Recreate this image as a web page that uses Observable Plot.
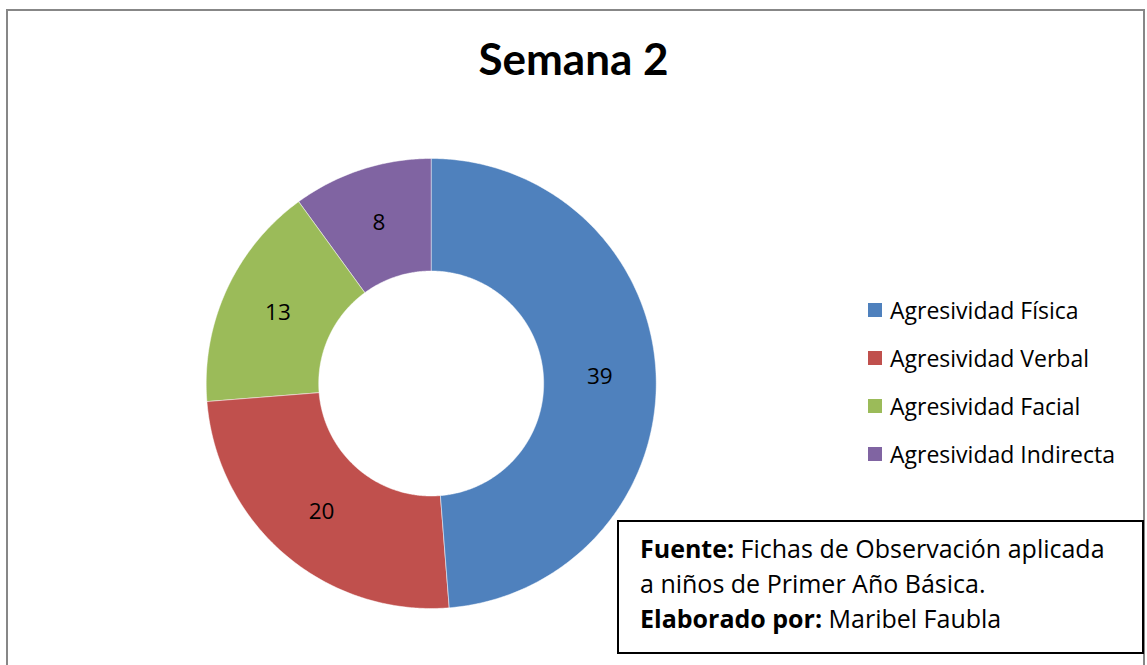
<!DOCTYPE html>
<html>
<head>
<meta charset="utf-8">
<script src="https://cdn.jsdelivr.net/npm/d3@7"></script>
<script src="https://cdn.jsdelivr.net/npm/@observablehq/plot@0.6"></script>
<style>
  html, body { margin: 0; padding: 0; background: #fff; }
  #wrap { position: relative; width: 1147px; height: 665px; overflow: hidden; font-family: "Open Sans", Lato, sans-serif; }
  #frame { position: absolute; left: 6px; top: 9px; width: 1139px; height: 700px; border: 2px solid #878787; box-sizing: border-box; }
  #title { position: absolute; left: 0; width: 1147px; top: 32px; text-align: center; font-family: Lato, sans-serif; font-weight: bold; font-size: 44px; color: #000; }
  #legend { position: absolute; left: 868px; top: 286px; }
  .item { display: flex; align-items: center; height: 48px; font-size: 23px; color: #000; white-space: nowrap; }
  .sw { width: 14px; height: 14px; margin-right: 8px; }
  #box { position: absolute; left: 617px; top: 520px; width: 527px; height: 134px; border: 2px solid #000; box-sizing: border-box; background: #fff; padding: 9px 0 0 21px; font-size: 25px; line-height: 34.8px; color: #000; white-space: nowrap; }
  svg { position: absolute; left: 0; top: 0; }
</style>
</head>
<body>
<div id="wrap">
  <div id="frame"></div>
  <div id="title"></div>
</div>
<script>
const title = "Semana 2";
const categories = ["Agresividad Física", "Agresividad Verbal", "Agresividad Facial", "Agresividad Indirecta"];
const values = [39, 20, 13, 8];
const colors = ["#4F81BD", "#C0504D", "#9BBB59", "#8064A2"];
const captionLines = [
  ["Fuente:", " Fichas de Observación aplicada"],
  ["", "a niños de Primer Año Básica."],
  ["Elaborado por:", " Maribel Faubla"]
];

const innerRatio = 0.5;
const pie = d3.pie().sort(null).value(d => d.value)(categories.map((name, i) => ({name, value: values[i]})));

// Ring polygons from the pie angles (0 = top, clockwise)
const points = [];
const labels = [];
for (const a of pie) {
  const n = Math.max(2, Math.ceil((a.endAngle - a.startAngle) / (Math.PI / 360)));
  for (let k = 0; k <= n; k++) {
    const t = a.startAngle + (a.endAngle - a.startAngle) * k / n;
    points.push({name: a.data.name, x: Math.sin(t), y: Math.cos(t)});
  }
  for (let k = n; k >= 0; k--) {
    const t = a.startAngle + (a.endAngle - a.startAngle) * k / n;
    points.push({name: a.data.name, x: innerRatio * Math.sin(t), y: innerRatio * Math.cos(t)});
  }
  const m = (a.startAngle + a.endAngle) / 2;
  const r = (1 + innerRatio) / 2;
  labels.push({x: r * Math.sin(m), y: r * Math.cos(m), text: String(a.data.value)});
}

const cx = 430.7, cy = 383, R = 225;
const chart = Plot.plot({
  width: 1147,
  height: 665,
  margin: 0,
  x: {domain: [-1, 1], range: [cx - R, cx + R], axis: null},
  y: {domain: [-1, 1], range: [cy + R, cy - R], axis: null},
  color: {domain: categories, range: colors},
  marks: [
    Plot.line(points, {x: "x", y: "y", z: "name", fill: "name", stroke: "#ffffff", strokeWidth: 0.6, strokeOpacity: 0.8, curve: "linear-closed"}),
    Plot.text(labels, {x: "x", y: "y", text: "text", fill: "#000", fontSize: 22.5, fontFamily: "'Open Sans', sans-serif"})
  ]
});
chart.style.background = "transparent";
const wrap = document.getElementById("wrap");
wrap.appendChild(chart);

// Legend
const legend = document.createElement("div");
legend.id = "legend";
categories.forEach((c, i) => {
  const it = document.createElement("div");
  it.className = "item";
  const sw = document.createElement("div");
  sw.className = "sw";
  sw.style.background = colors[i];
  it.appendChild(sw);
  it.appendChild(document.createTextNode(c));
  legend.appendChild(it);
});
wrap.appendChild(legend);

// Caption box
const box = document.createElement("div");
box.id = "box";
captionLines.forEach(([b, t]) => {
  const line = document.createElement("div");
  if (b) { const s = document.createElement("b"); s.textContent = b; line.appendChild(s); }
  line.appendChild(document.createTextNode(t));
  box.appendChild(line);
});
wrap.appendChild(box);
document.getElementById("title").textContent = title;
</script>
</body>
</html>
